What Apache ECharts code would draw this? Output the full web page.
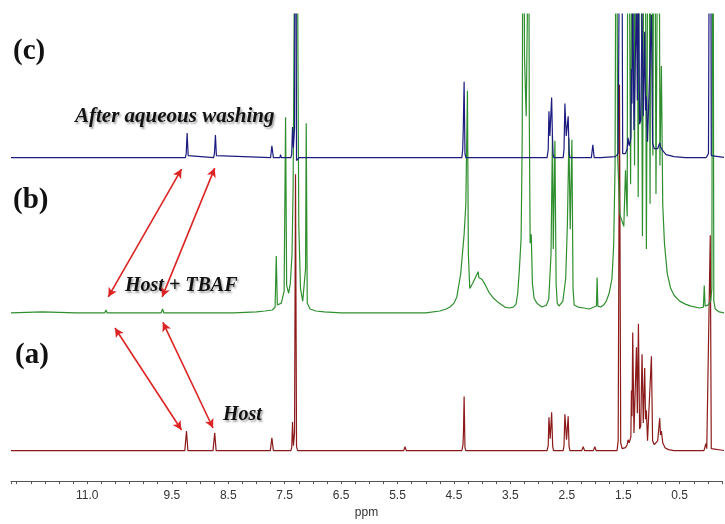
<!DOCTYPE html>
<html>
<head>
<meta charset="utf-8">
<script src="https://cdn.jsdelivr.net/npm/echarts@6/dist/echarts.min.js"></script>
<style>
  html, body { margin: 0; padding: 0; background: #fff; }
  #chart { width: 725px; height: 524px; }
</style>
</head>
<body>
<div id="chart"></div>
<script>
// Chemical-shift axis labels (ppm)
const tickValues = [11.0, 9.5, 8.5, 7.5, 6.5, 5.5, 4.5, 3.5, 2.5, 1.5, 0.5];
const tickText = ['11.0', '9.5', '8.5', '7.5', '6.5', '5.5', '4.5', '3.5', '2.5', '1.5', '0.5'];

// (a) Host — [ppm, intensity]
const hostSpec = [
  [12.35,0],[11.2,0],[10.1,0],
  [9.27,0],[9.24,20],[9.215,0],
  [8.77,0],[8.74,18],[8.715,0],
  [7.755,0],[7.727,13],[7.70,0],
  [7.585,0],[7.573,2],[7.56,0],
  [7.48,0],[7.467,2],[7.455,0],
  [7.39,0],[7.375,3],[7.361,29],[7.345,5],[7.325,18],[7.308,281],[7.29,4],[7.27,0],
  [7.20,0],[7.185,1.5],[7.17,0],
  [5.39,0],[5.368,4],[5.345,0],
  [4.36,0],[4.34,6],[4.332,18],[4.32,55],[4.305,3],[4.29,0],
  [2.85,0],[2.83,5],[2.817,34],[2.795,12],[2.769,39],[2.75,4],[2.735,0],
  [2.565,0],[2.55,5],[2.534,37],[2.505,11],[2.476,35],[2.46,4],[2.445,0],
  [2.235,0],[2.21,4],[2.185,0],
  [2.03,0],[2.004,4],[1.98,0],
  [1.61,0],[1.59,10],[1.567,372],[1.545,8],[1.52,2],
  [1.46,3],[1.43,6],[1.415,11],[1.395,8],[1.365,14],[1.355,61],[1.345,35],[1.332,120],
  [1.31,18],[1.29,20],[1.266,105],[1.25,38],[1.231,129],[1.21,22],[1.19,25],[1.167,98],
  [1.145,28],[1.12,84],[1.105,32],[1.09,41],[1.07,10],[1.04,12],[1.001,96],[0.98,10],
  [0.95,6],[0.92,6],[0.89,10],[0.854,33],[0.84,16],[0.824,20],[0.80,8],[0.76,3],[0.70,1],[0.60,0],
  [0.07,0],[0.036,7],[0.02,2],[-0.01,3],[-0.042,219],[-0.06,2],[-0.08,0],[-0.30,0]
];

// (b) Host + TBAF — [ppm, intensity]
const tbafSpec = [
  [12.35,0],[11.8,1],[11.2,0],
  [10.69,0],[10.667,3],[10.645,0],
  [9.69,0],[9.664,4],[9.64,0],
  [8.4,0],[8.0,1],[7.85,2],[7.72,3],[7.67,6],[7.649,58],[7.63,8],
  [7.56,10],[7.51,22],[7.484,199],[7.465,28],[7.43,20],
  [7.40,30],[7.37,60],[7.35,130],[7.33,320],[7.315,600],[7.285,600],[7.27,320],[7.25,90],
  [7.22,25],[7.18,12],[7.15,14],[7.13,45],[7.118,193],[7.10,10],[7.05,4],[6.95,2],[6.8,1],[6.5,0],
  [5.5,0],[5.0,0],[4.75,2],[4.64,4],[4.57,6],[4.50,10],[4.45,16],[4.38,40],[4.32,80],[4.29,110],
  [4.261,226],[4.245,60],[4.22,25],
  [4.17,30],[4.12,36],[4.07,42],[4.06,36],[4.0,34],[3.94,28],[3.88,21],[3.80,15],[3.70,10],
  [3.60,6],[3.52,5],[3.45,6],[3.40,9],
  [3.37,20],[3.34,45],[3.31,76],[3.29,180],[3.271,600],[3.25,260],[3.22,200],[3.20,300],
  [3.183,600],[3.165,200],[3.15,71],[3.13,80],[3.11,30],[3.08,15],[3.03,10],[2.99,8],
  [2.94,6],[2.90,7],[2.86,8],
  [2.82,14],[2.78,60],[2.755,181],[2.74,65],[2.711,175],[2.69,30],[2.67,10],[2.64,7],[2.61,8],[2.57,12],
  [2.52,35],[2.49,90],[2.463,178],[2.44,85],[2.41,176],[2.39,25],[2.37,8],[2.30,6],[2.20,5],
  [2.10,4],[2.02,6],[1.975,7],[1.963,36],[1.95,7],[1.90,6],[1.85,8],[1.80,12],[1.75,20],[1.70,35],[1.67,68],
  [1.645,150],[1.62,600],[1.60,160],[1.56,100],[1.49,88],[1.46,145],[1.43,98],[1.415,600],
  [1.37,131],[1.33,600],[1.30,150],[1.27,600],[1.235,118],[1.20,600],[1.16,78],[1.12,600],
  [1.09,65],[1.05,600],[1.025,111],[1.00,600],[0.975,160],[0.95,600],[0.92,121],[0.87,600],
  [0.85,150],[0.824,251],
  [0.80,110],[0.77,71],[0.72,40],[0.66,25],[0.60,18],[0.50,12],[0.40,9],[0.30,7],[0.15,5],
  [0.08,6],[0.064,28],[0.05,7],[0.0,8],[-0.05,12],[-0.07,25],[-0.088,600],[-0.105,12],
  [-0.13,4],[-0.20,1],[-0.30,0]
];

// (c) After aqueous washing — [ppm, intensity]
const washedSpec = [
  [12.35,0],[10.5,0],
  [9.26,0],[9.245,4],[9.229,25],[9.21,2],[9.195,0],
  [8.76,0],[8.745,4],[8.727,23],[8.71,2],[8.695,0],
  [7.75,0],[7.727,12],[7.70,0],
  [7.585,0],[7.573,3],[7.56,0],
  [7.39,0],[7.375,4],[7.361,31],[7.345,10],[7.325,30],[7.308,520],[7.29,-3],[7.27,-1],[7.24,0],
  [4.36,0],[4.345,8],[4.335,29],[4.32,77],[4.305,4],[4.29,0],
  [4.15,0],[4.13,2],[4.11,0],
  [2.85,0],[2.83,8],[2.817,47],[2.80,22],[2.769,61],[2.755,22],[2.745,4],[2.73,0],
  [2.565,0],[2.55,8],[2.534,55],[2.51,22],[2.476,42],[2.46,6],[2.445,0],
  [2.065,0],[2.039,13],[2.015,0],
  [1.90,0],[1.89,2],[1.88,0],
  [1.64,1],[1.59,4],[1.538,520],[1.51,4],[1.49,3],
  [1.46,4],[1.43,9],[1.415,20],[1.395,12],[1.365,20],[1.355,90],[1.345,55],[1.332,180],
  [1.31,28],[1.29,30],[1.266,160],[1.25,58],[1.231,195],[1.21,34],[1.19,38],[1.167,150],
  [1.145,42],[1.12,128],[1.105,48],[1.09,62],[1.07,16],[1.04,18],[1.001,145],[0.98,15],
  [0.95,9],[0.92,8],[0.89,9],[0.854,15],[0.84,11],[0.824,12],[0.80,7],[0.74,3],[0.60,1],[0.40,0],
  [0.03,0],[-0.01,4],[-0.042,520],[-0.06,2],[-0.08,0],[-0.30,0]
];

// vertical stacking of the three traces
const offsetA = 31, offsetB = 171, offsetC = 329;

function shift(spec, off) {
  return spec.map(function (d) { return [d[0], d[1] + off]; });
}

// red double-headed arrows linking corresponding signals (data coordinates)
const arrowStyle = { color: '#dc2424', width: 1.6, type: 'solid' };
const arrows = [
  [[9.328, 317.3], [10.626, 187.3]],
  [[8.740, 318.3], [9.671, 187.3]],
  [[10.508, 155.7], [9.328, 52]],
  [[9.659, 161.5], [8.770, 54]]
];

const chart = echarts.init(document.getElementById('chart'), null, { renderer: 'canvas' });

const serifBold = { fontFamily: 'Liberation Serif', fontWeight: 'bold', fill: '#111' };
function panelText(txt, x, y, size, italic) {
  return {
    type: 'text', x: x, y: y, silent: true,
    style: Object.assign({}, serifBold, {
      text: txt, fontSize: size, fontStyle: italic ? 'italic' : 'normal',
      textVerticalAlign: 'middle', textAlign: 'left',
      textShadowColor: italic ? 'rgba(0,0,0,0.35)' : 'rgba(0,0,0,0)',
      textShadowBlur: italic ? 2 : 0, textShadowOffsetX: italic ? 1.5 : 0, textShadowOffsetY: italic ? 1.5 : 0
    })
  };
}

chart.setOption({
  animation: false,
  backgroundColor: '#ffffff',
  grid: { left: 11, right: 1.5, top: 14, bottom: 35 },
  xAxis: {
    type: 'value', inverse: true, min: -0.25, max: 12.35, interval: 0.25,
    axisLine: { lineStyle: { color: '#555', width: 1 } },
    axisTick: { show: true, length: 3, lineStyle: { color: '#555' } },
    splitLine: { show: false },
    axisLabel: {
      color: '#333', fontSize: 12, fontFamily: 'Liberation Sans', margin: 9,
      showMinLabel: true, showMaxLabel: true,
      formatter: function (v) {
        for (let i = 0; i < tickValues.length; i++) {
          if (Math.abs(v - tickValues[i]) < 1e-6) return tickText[i];
        }
        return '';
      }
    },
    name: 'ppm', nameLocation: 'middle', nameGap: 24,
    nameTextStyle: { color: '#333', fontSize: 12, fontFamily: 'Liberation Sans' }
  },
  yAxis: { type: 'value', min: 0, max: 475, show: false },
  series: [
    {
      name: 'Host', type: 'line', data: shift(hostSpec, offsetA),
      showSymbol: false, clip: true, z: 2,
      lineStyle: { color: '#8c1a1a', width: 1.2 },
      markLine: {
        silent: true, symbol: ['arrow', 'arrow'], symbolSize: [7, 9],
        label: { show: false }, lineStyle: arrowStyle,
        data: arrows.map(function (a) { return [{ coord: a[0] }, { coord: a[1] }]; })
      }
    },
    {
      name: 'Host + TBAF', type: 'line', data: shift(tbafSpec, offsetB),
      showSymbol: false, clip: true, z: 3,
      lineStyle: { color: '#2f8f2f', width: 1.2 }
    },
    {
      name: 'After aqueous washing', type: 'line', data: shift(washedSpec, offsetC),
      showSymbol: false, clip: true, z: 4,
      lineStyle: { color: '#1c1c80', width: 1.2 }
    }
  ],
  graphic: [
    panelText('(c)', 13, 52, 29, false),
    panelText('(b)', 13, 201, 29, false),
    panelText('(a)', 15, 356, 29, false),
    panelText('After aqueous washing', 75, 117, 21, true),
    panelText('Host + TBAF', 125, 286, 20, true),
    panelText('Host', 223, 415, 20, true)
  ]
});
</script>
</body>
</html>
